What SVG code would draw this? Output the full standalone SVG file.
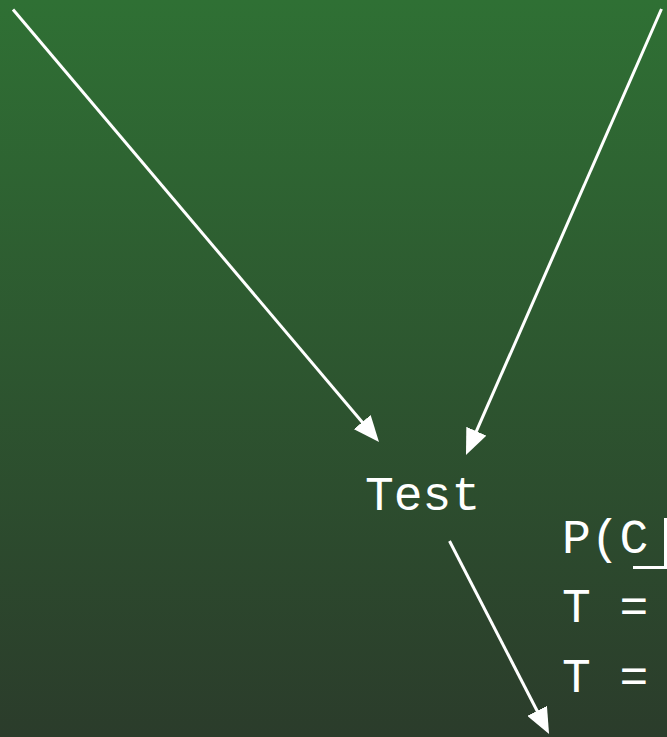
<svg xmlns="http://www.w3.org/2000/svg" width="667" height="737" viewBox="0 0 667 737">
  <defs>
    <linearGradient id="bg" x1="0" y1="0" x2="0" y2="1">
      <stop offset="0" stop-color="#2f7034"/>
      <stop offset="1" stop-color="#2b3c2b"/>
    </linearGradient>
    <marker id="arrow" viewBox="0 0 26 22" markerUnits="userSpaceOnUse" markerWidth="26" markerHeight="22" refX="6" refY="11" orient="auto">
      <path d="M0,0 L26,11 L0,22 z" fill="#ffffff"/>
    </marker>
    <style>
      .lbl { font-family: "Liberation Mono", "Courier New", monospace; font-size: 48px; fill: #ffffff; }
      .edge { stroke: #ffffff; stroke-width: 3; fill: none; marker-end: url(#arrow); }
      .rule { stroke: #ffffff; stroke-width: 3; fill: none; }
    </style>
  </defs>
  <rect x="0" y="0" width="667" height="737" fill="url(#bg)"/>
  <g id="connectors">
    <line class="edge" x1="13" y1="9.5" x2="366.1" y2="426.7"/>
    <line class="edge" x1="661.5" y1="9" x2="474" y2="436.7"/>
    <line class="edge" x1="449.5" y1="541" x2="539.9" y2="716.2"/>
  </g>
  <g id="node-test">
    <text class="lbl" x="365" y="510">Test</text>
  </g>
  <g id="node-formula">
    <text class="lbl" x="562" y="553">P(C</text>
    <path class="rule" d="M633,567.5 L665.5,567.5 L665.5,518"/>
    <text class="lbl" x="562" y="621.5">T =</text>
    <text class="lbl" x="562" y="692">T =</text>
  </g>
</svg>
